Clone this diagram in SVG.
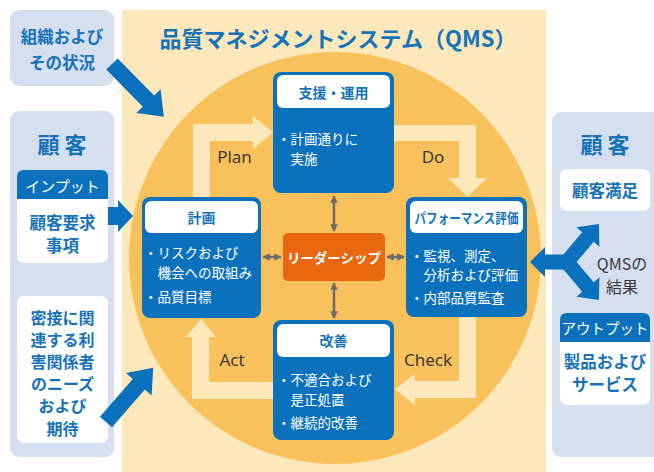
<svg xmlns="http://www.w3.org/2000/svg" width="654" height="472" viewBox="0 0 654 472">
<style>
.t{font-family:"Noto Sans CJK JP","Noto Sans",sans-serif;dominant-baseline:central}
.c{text-anchor:middle}
.b{font-weight:700}
.blue{fill:#1673BA}
.w{fill:#ffffff}
.lb{fill:#D5DFF0}
.box{fill:#0B71BD}
.wb{fill:#ffffff}
.cream{fill:#FDE8BC}
.pdca{font-family:"Noto Sans",sans-serif;font-size:17px;fill:#3a3a3a;text-anchor:middle;dominant-baseline:central}
.body{font-size:13.5px;fill:#ffffff}
.hd{font-size:14px;font-weight:700;fill:#1673BA;text-anchor:middle}
.side{font-size:16.5px;font-weight:700;fill:#1673BA;text-anchor:middle}
.sm{font-size:16px}
.ga{stroke:#6b6b6b;stroke-width:2.5;fill:none;marker-start:url(#gh);marker-end:url(#gh)}
.ba{fill:#0B71BD}
</style>
<defs>
<marker id="gh" viewBox="0 0 10 10" refX="9" refY="5" markerWidth="3" markerHeight="3" orient="auto-start-reverse">
<path d="M0,0 L10,5 L0,10 Z" fill="#6b6b6b"/>
</marker>
</defs>
<rect x="0" y="0" width="654" height="472" fill="#ffffff"/>
<!-- main panel -->
<rect x="122" y="10" width="424" height="462" class="cream"/>
<circle cx="335" cy="258" r="206" fill="#F9C15C"/>
<text class="t c b blue" x="338" y="37" font-size="22">品質マネジメントシステム（QMS）</text>

<!-- left side -->
<g id="context">
<rect x="10" y="10" width="104" height="76" rx="9" class="lb"/>
<text class="t side" x="62" y="36" font-size="18">組織および</text>
<text class="t side" x="62" y="62" font-size="18">その状況</text>
</g>
<g id="customer-left">
<rect x="10" y="111" width="104" height="346" rx="9" class="lb"/>
<text class="t c b blue" x="62" y="143" font-size="22">顧 客</text>
</g>
<g id="input">
<rect x="17" y="170" width="91" height="93" rx="7" class="wb"/>
<path d="M17,199 L17,177 Q17,170 24,170 L101,170 Q108,170 108,177 L108,199 Z" class="box"/>
<text class="t c w" x="62.5" y="185" font-size="15">インプット</text>
<text class="t side" x="62.5" y="222">顧客要求</text>
<text class="t side" x="62.5" y="245">事項</text>
</g>
<g id="stakeholders">
<rect x="17" y="296" width="91" height="147" rx="7" class="wb"/>
<text class="t side sm" x="62.5" y="316.5">密接に関</text>
<text class="t side sm" x="62.5" y="338.7">連する利</text>
<text class="t side sm" x="62.5" y="360.9">害関係者</text>
<text class="t side sm" x="62.5" y="383.1">のニーズ</text>
<text class="t side sm" x="62.5" y="405.3">および</text>
<text class="t side sm" x="62.5" y="427.5">期待</text>
</g>

<!-- right side -->
<g id="customer-right">
<rect x="552" y="112" width="110" height="345" rx="9" class="lb"/>
<text class="t c b blue" x="605" y="143" font-size="22">顧 客</text>
</g>
<g id="satisfaction">
<rect x="560" y="169" width="90" height="42" rx="7" class="wb"/>
<text class="t side" x="605" y="190">顧客満足</text>
</g>
<g id="qms-result">
<text class="t c" x="622" y="263" font-size="16" fill="#3a3a3a">QMSの</text>
<text class="t c" x="622" y="286" font-size="16" fill="#3a3a3a">結果</text>
</g>
<g id="output">
<rect x="560" y="313" width="90" height="92" rx="7" class="wb"/>
<path d="M560,342 L560,320 Q560,313 567,313 L643,313 Q650,313 650,320 L650,342 Z" class="box"/>
<text class="t c w" x="605" y="327.5" font-size="14.5">アウトプット</text>
<text class="t side" x="605" y="361">製品および</text>
<text class="t side" x="605" y="384">サービス</text>
</g>

<!-- connectors -->
<g id="connectors">
<!-- PDCA cycle arrows -->
<path d="M193,197 L193,124 L253,124 L253,116 L273,132.5 L253,149 L253,141 L210,141 L210,197 Z" class="cream"/>
<path d="M394,125 L476,125 L476,178 L487,178 L467.5,197 L448,178 L459,178 L459,141 L394,141 Z" class="cream"/>
<path d="M459,317 L476,317 L476,398 L415,398 L415,405 L395,389.5 L415,374 L415,381 L459,381 Z" class="cream"/>
<path d="M273,382 L273,399 L192,399 L192,337 L186,337 L201,319 L216,337 L209,337 L209,382 Z" class="cream"/>
<!-- blue inputs/outputs -->
<path d="M0,-8 L52,-8 L52,-17 L74,0 L52,17 L52,8 L0,8 Z" class="ba" transform="translate(112,64) rotate(45.5)"/>
<path d="M108,207 L118,207 L118,200 L133,216 L118,232 L118,225 L108,225 Z" class="ba"/>
<path d="M0,-8 L50,-8 L50,-17 L72,0 L50,17 L50,8 L0,8 Z" class="ba" transform="translate(106,422) rotate(-49)"/>
<path d="M0,-7.5 L31,-7.5 L31,-15 L46,0 L31,15 L31,7.5 L0,7.5 Z" class="ba" transform="translate(576,262) rotate(180)"/>
<path d="M0,-7.5 L34,-7.5 L34,-15 L51,0 L34,15 L34,7.5 L0,7.5 Z" class="ba" transform="translate(566,263) rotate(-49.8)"/>
<path d="M0,-7.5 L34,-7.5 L34,-15 L51,0 L34,15 L34,7.5 L0,7.5 Z" class="ba" transform="translate(566,261) rotate(49.8)"/>
<!-- gray double arrows -->
<line x1="263" y1="257" x2="281" y2="257" class="ga"/>
<line x1="387" y1="257" x2="404" y2="257" class="ga"/>
<line x1="334" y1="196" x2="334" y2="231" class="ga"/>
<line x1="334" y1="283" x2="334" y2="318" class="ga"/>
<text class="pdca" x="234.5" y="156">Plan</text>
<text class="pdca" x="433" y="156">Do</text>
<text class="pdca" x="428" y="359">Check</text>
<text class="pdca" x="232" y="359">Act</text>
</g>

<!-- nodes -->
<g id="support">
<rect x="273" y="72" width="121" height="121" rx="8" class="box"/>
<rect x="277" y="75" width="113" height="33" rx="6" class="wb"/>
<text class="t hd" x="333.5" y="92">支援・運用</text>
<text class="t body" x="277" y="138">・計画通りに</text>
<text class="t body" x="290.5" y="158">実施</text>
</g>
<g id="plan">
<rect x="142" y="197" width="119" height="121" rx="8" class="box"/>
<rect x="145" y="201" width="113" height="32" rx="6" class="wb"/>
<text class="t hd" x="201.5" y="217">計画</text>
<text class="t body" x="144" y="252">・リスクおよび</text>
<text class="t body" x="157.5" y="272">機会への取組み</text>
<text class="t body" x="144" y="296">・品質目標</text>
</g>
<g id="performance">
<rect x="406" y="197" width="121" height="120" rx="8" class="box"/>
<rect x="410" y="201" width="113" height="32" rx="6" class="wb"/>
<text class="t hd" x="466.5" y="217" font-size="12" textLength="104" lengthAdjust="spacingAndGlyphs">パフォーマンス評価</text>
<text class="t body" x="410" y="255">・監視、測定、</text>
<text class="t body" x="423.5" y="274">分析および評価</text>
<text class="t body" x="410" y="297">・内部品質監査</text>
</g>
<g id="improvement">
<rect x="273" y="320" width="121" height="120" rx="8" class="box"/>
<rect x="277" y="324" width="113" height="33" rx="6" class="wb"/>
<text class="t hd" x="333.5" y="340">改善</text>
<text class="t body" x="277" y="379">・不適合および</text>
<text class="t body" x="290.5" y="399">是正処置</text>
<text class="t body" x="277" y="422">・継続的改善</text>
</g>
<g id="leadership">
<rect x="283" y="233" width="102" height="48" rx="5" fill="#E9670E"/>
<text class="t c b w" x="334" y="257" font-size="13.5">リーダーシップ</text>
</g>
</svg>
